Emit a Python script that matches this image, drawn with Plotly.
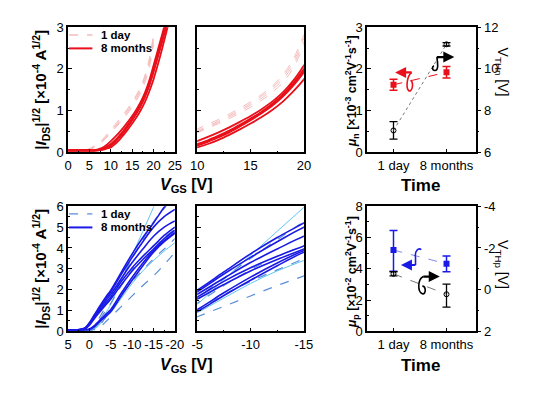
import plotly.graph_objects as go

W, H = 539, 401
FONT = "Liberation Sans, Arial, sans-serif"

# ---------------- data ----------------
vgs_n = list(range(0, 26))
vgs_n_1day = list(range(0, 21))
n_1day = [
    [.05, .05, .05, .05, .06, .09, .15, .22, .31, .42, .56, .67, .79, .92, 1.06, 1.21, 1.38, 1.58, 1.85, 2.24, 2.82],
    [.05, .05, .05, .05, .06, .08, .13, .19, .28, .39, .52, .63, .75, .88, 1.02, 1.17, 1.34, 1.54, 1.80, 2.17, 2.74],
    [.04, .04, .04, .04, .05, .07, .11, .17, .25, .35, .47, .58, .69, .81, .94, 1.08, 1.24, 1.43, 1.67, 2.02, 2.58],
    [.04, .04, .04, .04, .05, .07, .12, .18, .26, .37, .49, .60, .72, .85, .98, 1.13, 1.29, 1.49, 1.74, 2.10, 2.65],
]
n_8mo = [
    [.05, .05, .05, .05, .05, .05, .05, .07, .11, .18, .27, .37, .48, .60, .73, .87, 1.03, 1.21, 1.43, 1.72, 2.08, 2.45, 2.82, 3.20, 3.60, 4.00],
    [.05, .05, .05, .05, .05, .05, .05, .06, .09, .14, .20, .29, .40, .52, .66, .81, .97, 1.16, 1.38, 1.66, 2.00, 2.36, 2.72, 3.10, 3.50, 3.90],
    [.05, .05, .05, .05, .05, .05, .05, .06, .08, .12, .18, .27, .38, .50, .64, .79, .95, 1.13, 1.35, 1.63, 1.96, 2.32, 2.68, 3.06, 3.45, 3.85],
    [.04, .04, .04, .04, .04, .04, .04, .05, .07, .11, .16, .25, .36, .48, .62, .77, .93, 1.11, 1.33, 1.60, 1.92, 2.28, 2.64, 3.02, 3.40, 3.80],
    [.04, .04, .04, .04, .04, .04, .04, .05, .06, .09, .12, .20, .30, .42, .55, .69, .84, 1.01, 1.21, 1.46, 1.75, 2.10, 2.48, 2.88, 3.30, 3.70],
]

vgs_p = [5, 3, 2, 1, 0, -1, -2, -3, -4, -5, -7.5, -10, -12.5, -15, -17.5, -20]
p_1day_dashed = [
    [.05, .05, .05, .06, .10, .25, .55, .90, 1.25, 1.60, 2.55, 3.50, 4.40, 5.25, 5.90, 6.50],
    [.05, .05, .05, .05, .08, .20, .45, .75, 1.05, 1.35, 2.20, 2.95, 3.60, 4.10, 4.50, 4.90],
    [.05, .05, .05, .05, .06, .10, .25, .45, .75, 1.00, 1.75, 2.40, 2.95, 3.48, 3.95, 4.45],
    [.05, .05, .05, .05, .05, .08, .15, .30, .50, .70, 1.20, 1.70, 2.20, 2.66, 3.20, 3.78],
]
p_1day_light = [
    [.05, .05, .05, .05, .07, .12, .30, .60, .95, 1.30, 2.48, 3.65, 4.80, 5.95, 7.10, 8.20],
    [.05, .05, .05, .05, .05, .10, .25, .45, .70, .90, 1.60, 2.30, 2.90, 3.40, 3.85, 4.25],
]
p_8mo = [
    [.08, .08, .10, .18, .42, .75, 1.08, 1.40, 1.70, 1.98, 2.85, 3.72, 4.50, 5.20, 5.95, 6.60],
    [.08, .08, .10, .17, .40, .72, 1.03, 1.33, 1.62, 1.90, 2.75, 3.55, 4.30, 5.00, 5.50, 5.85],
    [.07, .07, .09, .15, .36, .66, .96, 1.25, 1.52, 1.78, 2.55, 3.30, 3.95, 4.56, 5.00, 5.30],
    [.07, .07, .09, .14, .33, .62, .90, 1.16, 1.41, 1.65, 2.40, 3.05, 3.60, 4.10, 4.60, 5.00],
    [.07, .07, .08, .13, .30, .57, .83, 1.08, 1.32, 1.55, 2.25, 2.90, 3.45, 3.95, 4.45, 4.85],
    [.06, .06, .07, .08, .12, .25, .45, .65, .85, 1.05, 1.85, 2.60, 3.28, 3.88, 4.35, 4.75],
    [.06, .06, .07, .08, .10, .20, .38, .57, .76, .95, 1.72, 2.45, 3.15, 3.80, 4.30, 4.70],
]

time_pos = [0, 1]
time_labels = ["1 day", "8 months"]
mu_n = [1.62, 1.92]
mu_n_err = [0.13, 0.14]
vth_n = [7.05, 11.18]
vth_n_err = [0.42, 0.08]
mu_p = [5.2, 4.32]
mu_p_err_plus = [1.25, 0.50]
mu_p_err_minus = [1.35, 0.50]
vth_p = [-0.76, 0.22]
vth_p_err_plus = [0.10, 0.62]
vth_p_err_minus = [0.10, 0.49]

# ---------------- helpers ----------------
def fx(x):
    return x / W

def fy(y):
    return 1 - y / H

def path(cmds):
    out = []
    for c, pts in cmds:
        out.append(c + " " + " ".join(f"{fx(x):.4f},{fy(y):.4f}" for x, y in pts))
    return " ".join(out)

RED = "#e8101a"
PINK = "#f5bcbc"
BLUE = "#1a1ae6"
DBLUE = "#5b8ed8"
CYAN = "#62c6f0"

fig = go.Figure()

for xa, ya in (("x", "y"), ("x2", "y2")):
    for c in n_1day:
        fig.add_trace(go.Scatter(x=vgs_n_1day, y=c, mode="lines", xaxis=xa, yaxis=ya,
                                 line=dict(color=PINK, width=1.0, dash="dash", shape="spline"),
                                 showlegend=False))
    for c in n_8mo:
        fig.add_trace(go.Scatter(x=vgs_n, y=c, mode="lines", xaxis=xa, yaxis=ya,
                                 line=dict(color=RED, width=1.8, shape="spline"),
                                 showlegend=False))

for xa, ya in (("x4", "y5"), ("x5", "y6")):
    for c in p_1day_light:
        fig.add_trace(go.Scatter(x=vgs_p, y=c, mode="lines", xaxis=xa, yaxis=ya,
                                 line=dict(color=CYAN, width=1, shape="spline"), showlegend=False))
    for c in p_1day_dashed:
        fig.add_trace(go.Scatter(x=vgs_p, y=c, mode="lines", xaxis=xa, yaxis=ya,
                                 line=dict(color=DBLUE, width=1.2, dash="dash", shape="spline"),
                                 showlegend=False))
    for c in p_8mo:
        fig.add_trace(go.Scatter(x=vgs_p, y=c, mode="lines", xaxis=xa, yaxis=ya,
                                 line=dict(color=BLUE, width=1.6, shape="spline"), showlegend=False))

fig.add_trace(go.Scatter(x=time_pos, y=vth_n, xaxis="x3", yaxis="y4", mode="lines+markers",
                         line=dict(color="#777777", width=1, dash="dot"),
                         marker=dict(symbol="circle-open", size=5, color="black"),
                         error_y=dict(type="data", array=vth_n_err, color="black", thickness=1.3, width=4),
                         showlegend=False))
fig.add_trace(go.Scatter(x=time_pos, y=mu_n, xaxis="x3", yaxis="y3", mode="lines+markers",
                         line=dict(color=RED, width=1, dash="dash"),
                         marker=dict(symbol="square", size=6, color=RED),
                         error_y=dict(type="data", array=mu_n_err, color=RED, thickness=1.5, width=4),
                         showlegend=False))
fig.add_trace(go.Scatter(x=time_pos, y=vth_p, xaxis="x6", yaxis="y8", mode="lines+markers",
                         line=dict(color="#777777", width=1, dash="dash"),
                         marker=dict(symbol="circle-open", size=5, color="black"),
                         error_y=dict(type="data", array=vth_p_err_plus, arrayminus=vth_p_err_minus,
                                      color="black", thickness=1.3, width=4),
                         showlegend=False))
fig.add_trace(go.Scatter(x=time_pos, y=mu_p, xaxis="x6", yaxis="y7", mode="lines+markers",
                         line=dict(color="#8a8ad8", width=1, dash="dash"),
                         marker=dict(symbol="square", size=6, color=BLUE),
                         error_y=dict(type="data", array=mu_p_err_plus, arrayminus=mu_p_err_minus,
                                      color=BLUE, thickness=1.5, width=4),
                         showlegend=False))

tf = dict(family=FONT, size=13, color="black")
base = dict(showline=True, linecolor="black", linewidth=1.5, mirror=True, ticks="inside",
            ticklen=4, tickwidth=1, tickcolor="black", tickfont=tf, showgrid=False, zeroline=False)

def minor(d, t="inside"):
    return dict(ticks=t, ticklen=2, tickwidth=1, tickcolor="black", dtick=d, tick0=0)

XL1, XL2 = fx(63), fx(173)
XM1, XM2 = fx(196), fx(306)
XR1, XR2 = fx(371), fx(483)
YT1, YT2 = fy(151), fy(21)
YB1, YB2 = fy(337), fy(207)

fig.update_layout(
    xaxis=dict(base, domain=[XL1, XL2], anchor="y", range=[0, 25], dtick=5, minor=minor(2.5)),
    yaxis=dict(base, domain=[YT1, YT2], anchor="x", range=[0, 3], dtick=1, minor=minor(0.5)),
    xaxis2=dict(base, domain=[XM1, XM2], anchor="y2", range=[10, 20], dtick=5, minor=minor(2.5)),
    yaxis2=dict(base, domain=[YT1, YT2], anchor="x2", range=[0, 3], dtick=1, minor=minor(0.5),
                showticklabels=False),
    xaxis3=dict(base, domain=[XR1, XR2], anchor="y3", range=[-0.5, 1.55], tickvals=time_pos,
                ticktext=time_labels),
    yaxis3=dict(base, domain=[YT1, YT2], anchor="x3", range=[0, 3], dtick=1, minor=minor(0.5)),
    yaxis4=dict(base, overlaying="y3", anchor="x3", side="right", range=[6, 12], dtick=2,
                ticks="outside", mirror=False, minor=minor(1, "outside")),
    xaxis4=dict(base, domain=[XL1, XL2], anchor="y5", range=[5, -20],
                tickvals=[5, 0, -5, -10, -15, -20], ticktext=["5", "0", "-5", "-10", "-15", "-20"],
                minor=minor(2.5)),
    yaxis5=dict(base, domain=[YB1, YB2], anchor="x4", range=[0, 6], dtick=1, minor=minor(0.5)),
    xaxis5=dict(base, domain=[XM1, XM2], anchor="y6", range=[-5, -15],
                tickvals=[-5, -10, -15], ticktext=["-5", "-10", "-15"], minor=minor(2.5)),
    yaxis6=dict(base, domain=[YB1, YB2], anchor="x5", range=[0, 6], dtick=1, minor=minor(0.5),
                showticklabels=False),
    xaxis6=dict(base, domain=[XR1, XR2], anchor="y7", range=[-0.5, 1.55], tickvals=time_pos,
                ticktext=time_labels),
    yaxis7=dict(base, domain=[YB1, YB2], anchor="x6", range=[0, 8], dtick=2, minor=minor(1)),
    yaxis8=dict(base, overlaying="y7", anchor="x6", side="right", range=[2, -4],
                tickvals=[-4, -2, 0, 2], ticktext=["-4", "-2", "0", "2"],
                ticks="outside", mirror=False, minor=minor(1, "outside")),
    width=W, height=H, margin=dict(l=0, r=0, t=0, b=0),
    paper_bgcolor="white", plot_bgcolor="white", showlegend=False,
)

ann = []

def text(x, y, s, size=13, angle=0, xanchor="center"):
    ann.append(dict(x=fx(x), y=fy(y), xref="paper", yref="paper", text=s, showarrow=False,
                    textangle=angle, xanchor=xanchor, yanchor="middle",
                    font=dict(family=FONT, size=size, color="black")))

ytitle = "<b>|<i>I</i><sub>DS</sub>|<sup>1/2</sup> [×10<sup>-4</sup> A<sup>1/2</sup>]</b>"
text(35, 86, ytitle, 15, -90)
text(35, 272, ytitle, 15, -90)
xtitle = "<b><i>V</i><sub>GS</sub> [V]</b>"
text(185, 185, xtitle, 16)
text(185, 372, xtitle, 16)
text(426, 185, "<b>Time</b>", 17)
text(426, 372, "<b>Time</b>", 17)
text(355, 87, "<b><i>μ</i><sub>n</sub> [×10<sup>-3</sup> cm<sup>2</sup>V<sup>-1</sup>s<sup>-1</sup>]</b>", 12.5, -90)
text(355, 275, "<b><i>μ</i><sub>p</sub> [×10<sup>-2</sup> cm<sup>2</sup>V<sup>-1</sup>s<sup>-1</sup>]</b>", 12.5, -90)
text(510, 68, "V<sub>THn</sub> [V]", 14, 90)
text(510, 268, "V<sub>THp</sub> [V]", 14, 90)

text(95, 29, "<b>1 day</b>", 11.5, 0, "left")
text(95, 43, "<b>8 months</b>", 11.5, 0, "left")
text(95, 215, "<b>1 day</b>", 11.5, 0, "left")
text(95, 229, "<b>8 months</b>", 11.5, 0, "left")

def arrow(x, y, ax, color):
    ann.append(dict(x=fx(x), y=fy(y), xref="paper", yref="paper", text="", showarrow=True,
                    ax=ax, ay=0, arrowhead=2, arrowsize=1, arrowwidth=2.2, arrowcolor=color))

arrow(400, 68, 18, RED)
arrow(461, 52, -19, "black")
arrow(406, 268, 16, BLUE)
arrow(446, 280, -18, "black")
fig.update_layout(annotations=ann)

shapes = []
for y, col, dash, w in ((29, PINK, "dash", 1.5), (43, RED, "solid", 2),
                        (215, DBLUE, "dash", 1.2), (229, BLUE, "solid", 2)):
    shapes.append(dict(type="line", xref="paper", yref="paper", x0=fx(64), x1=fx(88),
                       y0=fy(y), y1=fy(y), line=dict(color=col, width=w, dash=dash)))

curls = [
    ([("M", [(417, 68)]), ("C", [(412, 72), (411, 84), (414, 87)]), ("C", [(417, 89), (420, 80), (416, 76)])], RED),
    ([("M", [(443, 52)]), ("C", [(444, 58), (445, 66), (441, 66)]), ("C", [(438, 66), (438, 62), (440, 61)])], "black"),
    ([("M", [(421, 268)]), ("L", [(421, 260)]), ("C", [(420, 253), (424, 250), (427, 252)])], BLUE),
    ([("M", [(429, 280)]), ("C", [(423, 283), (423, 296), (428, 298)]), ("C", [(432, 299), (432, 290), (428, 290)])], "black"),
]
for cmds, col in curls:
    shapes.append(dict(type="path", xref="paper", yref="paper", path=path(cmds),
                       line=dict(color=col, width=1.6)))
fig.update_layout(shapes=shapes)

fig.write_html("out.html", config={"displayModeBar": False},
               post_script="document.body.style.margin='0';")
